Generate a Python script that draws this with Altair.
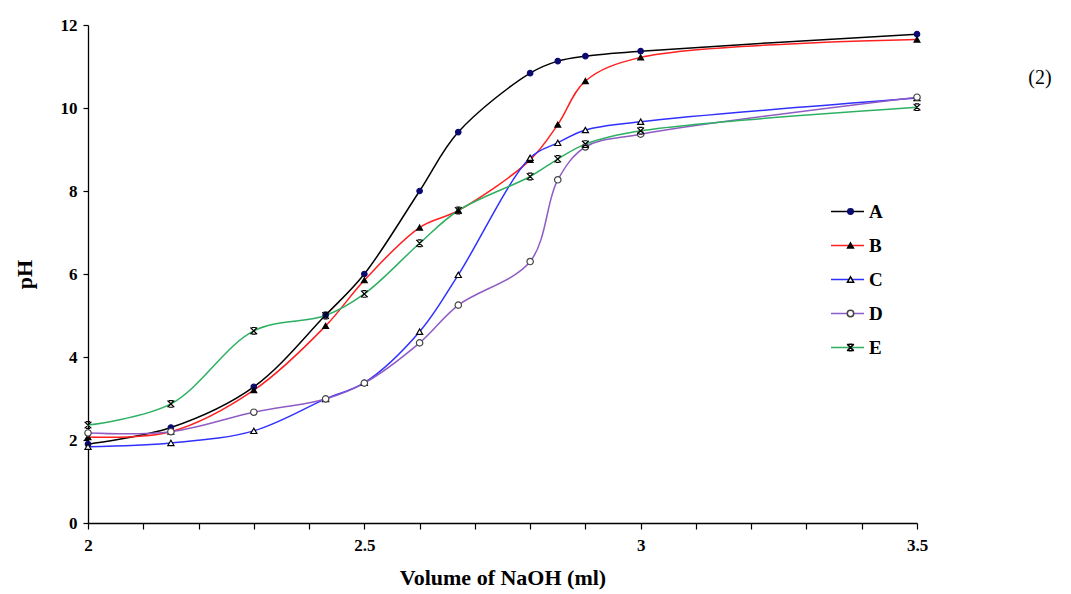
import altair as alt
import pandas as pd

# ---- data ----
volume = [2.0, 2.15, 2.3, 2.43, 2.5, 2.6, 2.67, 2.8, 2.85, 2.9, 3.0, 3.5]
ph_A = [1.90, 2.30, 3.28, 5.01, 6.00, 8.00, 9.42, 10.84, 11.13, 11.25, 11.37, 11.78]
ph_B = [2.07, 2.20, 3.20, 4.75, 5.85, 7.12, 7.53, 8.75, 9.60, 10.65, 11.22, 11.65]
ph_C = [1.84, 1.93, 2.22, 2.99, 3.38, 4.61, 5.98, 8.80, 9.16, 9.47, 9.67, 10.24]
ph_D = [2.17, 2.20, 2.67, 2.99, 3.37, 4.34, 5.25, 6.30, 8.27, 9.06, 9.37, 10.26]
ph_E = [2.36, 2.87, 4.63, 5.00, 5.52, 6.74, 7.53, 8.35, 8.77, 9.13, 9.45, 10.02]

series_names = ["A", "B", "C", "D", "E"]
line_names = ["line " + s for s in series_names]
line_colors = ["#000000", "#FF2020", "#3030FF", "#8E5CC4", "#2DB062"]
marker_shapes = [
    "circle",
    "triangle-up",
    "triangle-up",
    "circle",
    "M-1,-1L1,1M1,-1L-1,1M-0.6,-1H0.6M-0.6,1H0.6",
]
marker_fills = ["#0A0A70", "#000000", "#FFFFFF", "#FFFFFF", "#000000"]
marker_strokes = ["#0A0A70", "#000000", "#000000", "#444444", "#000000"]
marker_sizes = [30, 45, 60, 70, 50]

x_ticks = [2.0, 2.1, 2.2, 2.3, 2.4, 2.5, 2.6, 2.7, 2.8, 2.9, 3.0, 3.1, 3.2, 3.3, 3.4, 3.5]
y_ticks = [0, 2, 4, 6, 8, 10, 12]

rows = []
for name, lname, vals in zip(series_names, line_names, [ph_A, ph_B, ph_C, ph_D, ph_E]):
    for v, p in zip(volume, vals):
        rows.append({"Volume": v, "pH": p, "Series": name, "Line": lname})
df = pd.DataFrame(rows)

FONT = "Liberation Serif"

x_enc = alt.X(
    "Volume:Q",
    scale=alt.Scale(domain=[2, 3.5], nice=False, zero=False),
    axis=alt.Axis(
        title="Volume of NaOH (ml)",
        values=x_ticks,
        labelExpr="abs(datum.value*2 - round(datum.value*2)) < 0.001 ? format(datum.value, '~g') : ''",
        labelFlush=False,
        tickSize=6,
        labelPadding=8,
        titlePadding=14,
    ),
)
y_enc = alt.Y(
    "pH:Q",
    scale=alt.Scale(domain=[0, 12], nice=False),
    axis=alt.Axis(title="pH", values=y_ticks, tickSize=5, labelPadding=6, titlePadding=24),
)

lines = alt.Chart(df).mark_line(interpolate="catmull-rom", strokeWidth=1.5).encode(
    x=x_enc,
    y=y_enc,
    color=alt.Color(
        "Line:N",
        scale=alt.Scale(domain=line_names, range=line_colors),
        legend=alt.Legend(
            orient="none",
            legendX=742,
            legendY=169,
            title=None,
            padding=0,
            rowPadding=8,
            symbolType="stroke",
            symbolSize=1089,
            symbolStrokeWidth=1.5,
            labelExpr="''",
            labelColor="transparent",
            labelFontSize=17,
        ),
    ),
    detail="Line:N",
)

marker_legend = alt.Legend(
    orient="none",
    legendX=753,
    legendY=177,
    title=None,
    padding=0,
    rowPadding=14,
    labelOffset=9,
    labelFont=FONT,
    labelFontWeight="bold",
    labelFontSize=19,
    labelColor="#000000",
)

pts = alt.Chart(df).mark_point(filled=False, strokeWidth=1.2, opacity=1).encode(
    x="Volume:Q",
    y="pH:Q",
    shape=alt.Shape("Series:N", scale=alt.Scale(domain=series_names, range=marker_shapes), legend=marker_legend),
    fill=alt.Fill("Series:N", scale=alt.Scale(domain=series_names, range=marker_fills), legend=marker_legend),
    stroke=alt.Stroke("Series:N", scale=alt.Scale(domain=series_names, range=marker_strokes), legend=marker_legend),
    size=alt.Size("Series:N", scale=alt.Scale(domain=series_names, range=marker_sizes), legend=marker_legend),
)

label_df = pd.DataFrame({"t": ["(2)"]})
tag = alt.Chart(label_df).mark_text(
    font=FONT, fontSize=20, color="#000000", align="center", baseline="middle"
).encode(text="t:N", x=alt.value(952), y=alt.value(53))

chart = (
    alt.layer(lines, pts, tag)
    .properties(
        width=829,
        height=498,
        autosize=alt.AutoSizeParams(type="none"),
        padding={"left": 88, "top": 25, "right": 154, "bottom": 71},
        background="#FFFFFF",
    )
    .configure_view(stroke=None)
    .configure_axis(
        grid=False,
        domainColor="#000000",
        domainWidth=1.3,
        tickColor="#000000",
        tickWidth=1.2,
        labelFont=FONT,
        labelFontWeight="bold",
        labelFontSize=17,
        labelColor="#000000",
        titleFont=FONT,
        titleFontWeight="bold",
        titleFontSize=22,
        titleColor="#000000",
    )
)

chart.save("out.html", embed_options={"renderer": "svg", "actions": False})
